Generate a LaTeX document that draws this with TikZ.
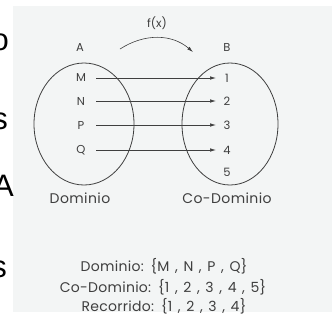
\documentclass[tikz,border=0pt]{standalone}
\usepackage{fontspec}
\setmainfont{Poppins}
\newfontfamily\arialf{Liberation Sans}
\newfontfamily\widef[LetterSpace=3,WordSpace=1.6]{Poppins}
\newfontfamily\setlinef[LetterSpace=2,WordSpace=1.4]{Poppins}
\usetikzlibrary{arrows.meta}
\definecolor{ink}{HTML}{3F3F3F}
\definecolor{scan}{HTML}{F3F5F5}
\begin{document}
\begin{tikzpicture}[x=1pt,y=-1pt,
  lbl/.style={text=ink,font=\fontsize{11.5}{13}\selectfont,inner sep=0pt},
  big/.style={font=\arialf\fontsize{31}{31}\selectfont,inner sep=0pt,anchor=base east},
  txt/.style={text=ink,font=\widef\fontsize{14}{16}\selectfont,inner sep=0pt},
  settxt/.style={text=ink,font=\setlinef\fontsize{14}{16}\selectfont,inner sep=0pt},
  arr/.style={draw=ink,line width=0.6pt,-{Latex[length=6pt,width=3.5pt]}},
  setshape/.style={draw=ink,line width=0.8pt}]
\useasboundingbox (0,0) rectangle (332,333);
\fill[scan] (13,6) rectangle (332,312);
\begin{scope}
\clip (0,0) rectangle (332,333);
\node[big] (l1) at (9,50) {o};
\node[big] (l2) at (8,129) {s};
\node[big] (l3) at (14,196) {A};
\node[big] (l4) at (7,277) {s};
\end{scope}
% sets
\draw[setshape] (84,124) ellipse [x radius=50,y radius=61];
\draw[setshape] (230,124) ellipse [x radius=48,y radius=61];
\node[lbl] (fx) at (157,23) {f(x)};
\node[lbl] (A) at (80,48) {A};
\node[lbl] (B) at (227,47) {B};
\coordinate (c1) at (120,49);
\coordinate (c2) at (193,52);
\draw[arr] (c1) .. controls (145,33) and (172,34) .. (c2);
\node[lbl] (M) at (81,78) {M};
\node[lbl] (N) at (81,101) {N};
\node[lbl] (P) at (81,125) {P};
\node[lbl] (Q) at (81,150) {Q};
\node[lbl] (n1) at (227,78) {1};
\node[lbl] (n2) at (227,101) {2};
\node[lbl] (n3) at (227,125) {3};
\node[lbl] (n4) at (227,150) {4};
\node[lbl] (n5) at (227,172) {5};
\coordinate (mS) at (96,78);   \coordinate (mE) at (216,78);
\coordinate (nS) at (96,101);  \coordinate (nE) at (216,101);
\coordinate (pS) at (96,125);  \coordinate (pE) at (216,125);
\coordinate (qS) at (96,150);  \coordinate (qE) at (216,150);
\draw[arr] (mS) -- (mE);
\draw[arr] (nS) -- (nE);
\draw[arr] (pS) -- (pE);
\draw[arr] (qS) -- (qE);
\node[txt] (dom) at (80,198) {Dominio};
\node[txt] (cod) at (227,198) {Co-Dominio};
\node[settxt] (t1) at (164,266) {Dominio: \{M , N , P , Q\}};
\node[settxt] (t2) at (163,287) {Co-Dominio: \{1 , 2 , 3 , 4 , 5\}};
\node[settxt] (t3) at (164,306) {Recorrido: \{1 , 2 , 3 , 4\}};
\end{tikzpicture}
\end{document}
